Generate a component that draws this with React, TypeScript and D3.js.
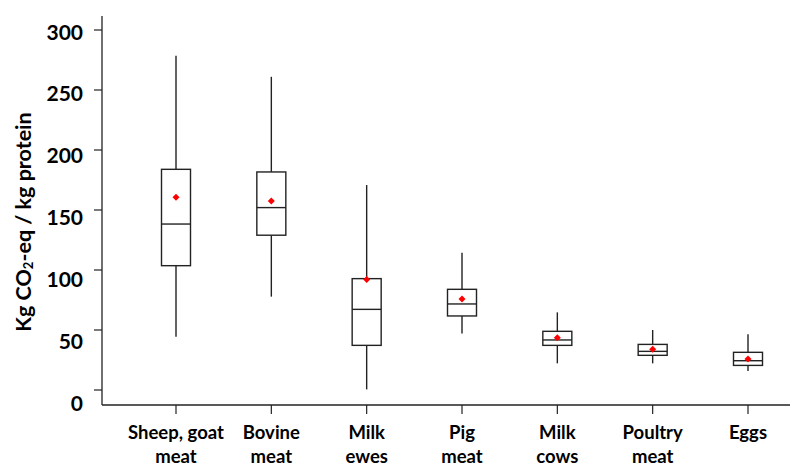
import React from "react";
import * as d3 from "d3";

const categories = ["Sheep, goat|meat", "Bovine|meat", "Milk|ewes", "Pig|meat", "Milk|cows", "Poultry|meat", "Eggs"];
const whiskerLow = [44.4, 77.8, 0.5, 47, 22.2, 22.2, 15.8];
const q1 = [103.6, 129, 37.2, 61.7, 37.2, 28.9, 20.5];
const median = [138.3, 152, 67.2, 71.7, 41.7, 32.2, 24.4];
const q3 = [183.9, 181.7, 92.8, 83.9, 48.9, 38, 31.4];
const whiskerHigh = [278.6, 261, 170.8, 114.4, 64.7, 50, 46.4];
const means = [160.6, 157.5, 92, 75.8, 43.6, 33.9, 25.8];
const yTicks = [0, 50, 100, 150, 200, 250, 300];

const W = 791;
const H = 466;
const FONT = "Lato, 'Open Sans', sans-serif";

export default function App() {
  const y = d3.scaleLinear().domain([0, 300]).range([390, 30]);
  const yLab = d3.scaleLinear().domain([0, 300]).range([402, 31]);
  const x = d3.scalePoint<string>().domain(categories).range([176, 748]);
  const axisX = 102;
  const axisY = 405;
  const boxW = 29;
  const stroke = "#222";

  return (
    <svg width={W} height={H} style={{ position: "absolute", left: 0, top: 0, background: "#fff" }}>
      {/* y axis */}
      <line x1={axisX} x2={axisX} y1={16} y2={axisY} stroke={stroke} strokeWidth={1.3} />
      {yTicks.map((t) => (
        <g key={t}>
          <line x1={axisX - 8} x2={axisX} y1={y(t)} y2={y(t)} stroke={stroke} strokeWidth={1.2} />
          <text x={83} y={yLab(t)} textAnchor="end" dominantBaseline="central" fontFamily={FONT} fontWeight="bold" fontSize={21} fill="#000">
            {t}
          </text>
        </g>
      ))}
      {/* x axis */}
      <line x1={axisX} x2={790} y1={axisY} y2={axisY} stroke={stroke} strokeWidth={1.3} />
      {categories.map((c) => {
        const lines = c.split("|");
        return (
          <g key={c}>
            <line x1={x(c)!} x2={x(c)!} y1={axisY} y2={axisY + 9} stroke={stroke} strokeWidth={1.2} />
            {lines.map((l, i) => (
              <text key={i} x={x(c)!} y={439 + i * 24} textAnchor="middle" fontFamily={FONT} fontWeight="bold" fontSize={18.5} fill="#000">
                {l}
              </text>
            ))}
          </g>
        );
      })}
      {/* boxes */}
      {categories.map((c, i) => {
        const cx = x(c)!;
        return (
          <g key={"b" + c} stroke={stroke} strokeWidth={1.4} fill="none">
            <line x1={cx} x2={cx} y1={y(whiskerHigh[i])} y2={y(q3[i])} />
            <line x1={cx} x2={cx} y1={y(q1[i])} y2={y(whiskerLow[i])} />
            <rect x={cx - boxW / 2} y={y(q3[i])} width={boxW} height={y(q1[i]) - y(q3[i])} fill="#fff" />
            <line x1={cx - boxW / 2} x2={cx + boxW / 2} y1={y(median[i])} y2={y(median[i])} />
            <path
              d={`M${cx},${y(means[i]) - 3.5} L${cx + 3.5},${y(means[i])} L${cx},${y(means[i]) + 3.5} L${cx - 3.5},${y(means[i])} Z`}
              fill="#ff0000"
              stroke="none"
            />
          </g>
        );
      })}
      {/* y title */}
      <text
        transform={`translate(23,222) rotate(-90)`}
        textAnchor="middle"
        dominantBaseline="central"
        fontFamily={FONT}
        fontWeight="bold"
        fontSize={21.5}
        fill="#000"
      >
        Kg CO<tspan fontSize={13} dy={5}>2</tspan>
        <tspan dy={-5}>-eq / kg protein</tspan>
      </text>
    </svg>
  );
}
